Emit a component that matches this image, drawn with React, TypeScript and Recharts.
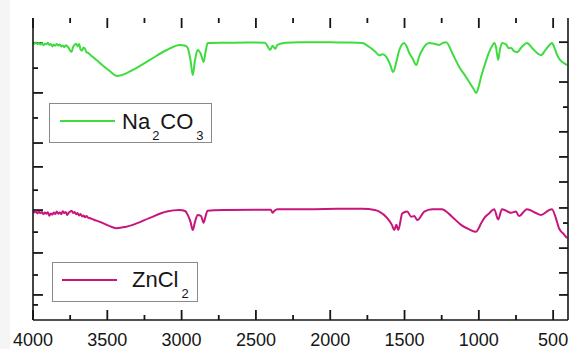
import React from 'react';
import { LineChart, Line, XAxis, YAxis, ReferenceLine } from 'recharts';

// wavenumber (cm-1) / transmittance (a.u.)
const na2co3Wn = [4000, 3990, 3980, 3970, 3960, 3950, 3940, 3930, 3920, 3910, 3900, 3890, 3880, 3870, 3860, 3850, 3840, 3830, 3820, 3810, 3800, 3790, 3780, 3770, 3760, 3750, 3740, 3730, 3720, 3710, 3700, 3690, 3680, 3670, 3660, 3650, 3640, 3630, 3610, 3590, 3570, 3550, 3480, 3436, 3380, 3328, 3214, 3100, 3013, 2975, 2959, 2940, 2925, 2910, 2892, 2870, 2852, 2838, 2825, 2700, 2550, 2440, 2420, 2405, 2388, 2370, 2355, 2300, 2207, 2119, 2000, 1900, 1784, 1737, 1700, 1670, 1645, 1623, 1600, 1576, 1555, 1535, 1502, 1485, 1468, 1445, 1421, 1400, 1381, 1355, 1334, 1300, 1267, 1240, 1220, 1180, 1150, 1132, 1100, 1065, 1035, 1018, 1000, 985, 960, 931, 910, 897, 885, 870, 858, 844, 815, 800, 783, 763, 743, 710, 676, 640, 610, 582, 550, 520, 508, 490, 475, 461, 440, 420, 407];
const na2co3T = [91.8, 91.5, 91.9, 91.3, 91.7, 91.2, 91.6, 91.0, 91.5, 91.3, 91.8, 91.1, 91.4, 90.6, 91.2, 90.8, 91.4, 90.9, 91.2, 90.6, 90.9, 90.3, 91.0, 90.7, 90.1, 89.2, 88.8, 90.4, 91.1, 91.5, 90.6, 91.4, 89.6, 89.2, 90.2, 89.8, 88.6, 88.5, 87.6, 86.8, 86.0, 85.1, 82.3, 80.8, 81.5, 82.8, 86.1, 89.4, 91.1, 90.8, 90.1, 86.0, 81.1, 86.0, 89.4, 88.0, 85.4, 89.0, 91.7, 91.8, 91.9, 91.8, 90.5, 89.4, 90.8, 89.8, 91.1, 91.8, 92.0, 92.0, 92.0, 91.9, 91.7, 90.4, 89.0, 87.7, 88.0, 87.1, 85.0, 82.1, 85.5, 89.4, 91.7, 90.5, 88.4, 86.5, 84.4, 87.5, 89.4, 91.2, 91.7, 91.5, 91.1, 91.8, 92.0, 88.5, 85.5, 83.8, 81.5, 78.8, 76.5, 75.2, 77.5, 80.5, 84.5, 88.7, 90.8, 91.7, 90.5, 86.1, 89.5, 91.7, 91.2, 90.0, 90.1, 89.0, 88.7, 90.5, 91.7, 90.0, 88.5, 87.7, 89.5, 91.3, 91.7, 90.0, 88.0, 86.7, 85.5, 84.8, 84.4];

const zncl2Wn = [4000, 3990, 3980, 3970, 3960, 3950, 3940, 3930, 3920, 3910, 3900, 3890, 3880, 3870, 3860, 3850, 3840, 3830, 3820, 3810, 3800, 3790, 3780, 3770, 3760, 3750, 3740, 3730, 3720, 3710, 3700, 3690, 3680, 3670, 3660, 3650, 3640, 3630, 3617, 3590, 3550, 3480, 3436, 3380, 3328, 3214, 3100, 3013, 2975, 2959, 2940, 2925, 2910, 2892, 2870, 2852, 2838, 2825, 2700, 2500, 2400, 2388, 2375, 2355, 2200, 2119, 1950, 1784, 1700, 1670, 1616, 1585, 1569, 1555, 1542, 1515, 1482, 1455, 1434, 1414, 1367, 1314, 1250, 1180, 1120, 1065, 1018, 1000, 985, 960, 931, 897, 870, 844, 783, 750, 730, 676, 620, 582, 530, 508, 480, 461, 430, 407];
const zncl2T = [36.2, 35.6, 36.0, 35.3, 35.9, 35.4, 35.8, 35.0, 35.6, 35.2, 35.7, 34.5, 35.3, 34.9, 35.6, 35.1, 35.9, 35.2, 35.6, 35.0, 36.0, 35.4, 35.8, 34.8, 35.5, 35.9, 36.2, 35.4, 35.8, 35.0, 35.4, 34.6, 35.1, 34.3, 34.6, 34.0, 34.4, 33.9, 33.7, 33.2, 32.5, 31.0, 30.4, 30.8, 31.5, 33.8, 35.9, 36.4, 36.0, 34.8, 32.5, 29.8, 32.5, 34.8, 34.5, 32.2, 34.5, 36.2, 36.4, 36.5, 36.5, 35.5, 36.2, 36.7, 36.7, 36.7, 36.8, 36.8, 36.4, 35.9, 33.7, 31.5, 29.8, 31.5, 29.8, 35.3, 35.9, 34.2, 34.4, 33.1, 35.9, 36.7, 36.7, 34.2, 31.5, 30.0, 29.2, 30.5, 32.0, 34.0, 35.3, 36.7, 33.3, 36.7, 35.5, 35.9, 34.4, 36.7, 35.5, 34.8, 36.3, 36.7, 33.5, 30.4, 28.5, 27.1];

const xTicks = [4000, 3750, 3500, 3250, 3000, 2750, 2500, 2250, 2000, 1750, 1500, 1250, 1000, 750, 500];
const xLabels = [4000, 3500, 3000, 2500, 2000, 1500, 1000, 500];
const leftTicks = [91.7, 83.4, 75.2, 66.9, 58.6, 50.7, 43.0, 36.4, 29.1, 22.2, 14.9, 8.3, 5.0];
const leftMinor = [83.4, 66.9, 43.0, 29.1, 14.9, 5.0];
const rightTicks = [92.0, 78.8, 70.5, 62.3, 54.0, 45.7, 37.1, 32.1, 23.8, 15.6, 8.3];
const rightMinor = [70.5, 32.1];

const na2co3 = na2co3Wn.map((wn, i) => ({ wn, t: na2co3T[i] }));
const zncl2 = zncl2Wn.map((wn, i) => ({ wn, t: zncl2T[i] }));

const X_MIN = 400;
const X_MAX = 4000;
const Y_MIN = 0;
const Y_MAX = 100;
// one screen pixel in data units (plot is 536 x 302 px)
const XPX = (X_MAX - X_MIN) / 536;
const YPX = (Y_MAX - Y_MIN) / 302;

const FONT = '"Liberation Sans", Arial, sans-serif';
const INK = '#161616';
const GREEN = '#3fdc3f';
const PINK = '#c8157d';

const BottomLabel = (props: any) => {
  const { x, y, payload } = props;
  if (!xLabels.includes(payload.value)) return <g />;
  return (
    <text x={x} y={y + 26} textAnchor="middle" fontSize={18} fill={INK} fontFamily={FONT}>
      {payload.value}
    </text>
  );
};

const frame = { stroke: INK, strokeWidth: 1.6 };

export default function App() {
  const marks: React.ReactNode[] = [];
  xTicks.forEach((v) => {
    const len = v % 500 === 0 ? 10 : 5;
    marks.push(
      <ReferenceLine key={`b${v}`} segment={[{ x: v, y: Y_MIN }, { x: v, y: Y_MIN + len * YPX }]} stroke={INK} strokeWidth={1.8} />,
      <ReferenceLine key={`t${v}`} segment={[{ x: v, y: Y_MAX }, { x: v, y: Y_MAX - len * YPX }]} stroke={INK} strokeWidth={1.8} />
    );
  });
  leftTicks.forEach((v) => {
    const len = leftMinor.includes(v) ? 5 : 10;
    marks.push(
      <ReferenceLine key={`l${v}`} segment={[{ x: X_MAX, y: v }, { x: X_MAX - len * XPX, y: v }]} stroke={INK} strokeWidth={1.8} />
    );
  });
  rightTicks.forEach((v) => {
    const len = rightMinor.includes(v) ? 5 : 9;
    marks.push(
      <ReferenceLine key={`r${v}`} segment={[{ x: X_MIN, y: v }, { x: X_MIN + len * XPX, y: v }]} stroke={INK} strokeWidth={1.8} />
    );
  });

  return (
    <div style={{ position: 'absolute', left: 0, top: 0, width: 573, height: 349, background: '#fff' }}>
      <LineChart width={573} height={349} margin={{ top: 18, right: 1, bottom: 0, left: 0 }}>
        <XAxis
          dataKey="wn"
          type="number"
          domain={[X_MIN, X_MAX]}
          reversed
          allowDataOverflow
          ticks={xTicks}
          interval={0}
          height={29}
          tickSize={0}
          tickMargin={0}
          tickLine={false}
          tick={BottomLabel}
          axisLine={frame}
        />
        <XAxis
          xAxisId="top"
          orientation="top"
          dataKey="wn"
          type="number"
          domain={[X_MIN, X_MAX]}
          reversed
          height={0}
          tick={false}
          tickLine={false}
          axisLine={frame}
        />
        <YAxis type="number" domain={[Y_MIN, Y_MAX]} width={33} tick={false} tickLine={false} axisLine={frame} />
        <YAxis
          yAxisId="right"
          orientation="right"
          type="number"
          domain={[Y_MIN, Y_MAX]}
          width={4}
          tick={false}
          tickLine={false}
          axisLine={frame}
        />
        {marks}
        <Line
          data={na2co3}
          dataKey="t"
          type="monotone"
          stroke={GREEN}
          strokeWidth={2}
          dot={false}
          isAnimationActive={false}
        />
        <Line
          data={zncl2}
          dataKey="t"
          type="monotone"
          stroke={PINK}
          strokeWidth={2}
          dot={false}
          isAnimationActive={false}
        />
      </LineChart>
      <div style={{ position: 'absolute', left: 0, top: 0, width: 10, height: 349, background: '#f5f5f5' }} />
      <svg width={573} height={349} style={{ position: 'absolute', left: 0, top: 0, pointerEvents: 'none' }}>
        <rect x={49.5} y={103.5} width={162} height={39} fill="#fff" stroke="#8a8a8a" strokeWidth={1} />
        <line x1={60} x2={115} y1={121} y2={121} stroke={GREEN} strokeWidth={2} />
        <text x={122} y={128.5} fontSize={22} fill={INK} fontFamily={FONT}>
          Na
          <tspan fontSize={13} dy={11} dx={2}>2</tspan>
          <tspan dy={-11} dx={1}>CO</tspan>
          <tspan fontSize={13} dy={11} dx={3}>3</tspan>
        </text>
        <rect x={52.5} y={262.5} width={145} height={39} fill="#fff" stroke="#8a8a8a" strokeWidth={1} />
        <line x1={62} x2={117} y1={280} y2={280} stroke={PINK} strokeWidth={2} />
        <text x={132} y={287} fontSize={22} fill={INK} fontFamily={FONT}>
          ZnCl
          <tspan fontSize={13} dy={11} dx={3}>2</tspan>
        </text>
      </svg>
    </div>
  );
}
